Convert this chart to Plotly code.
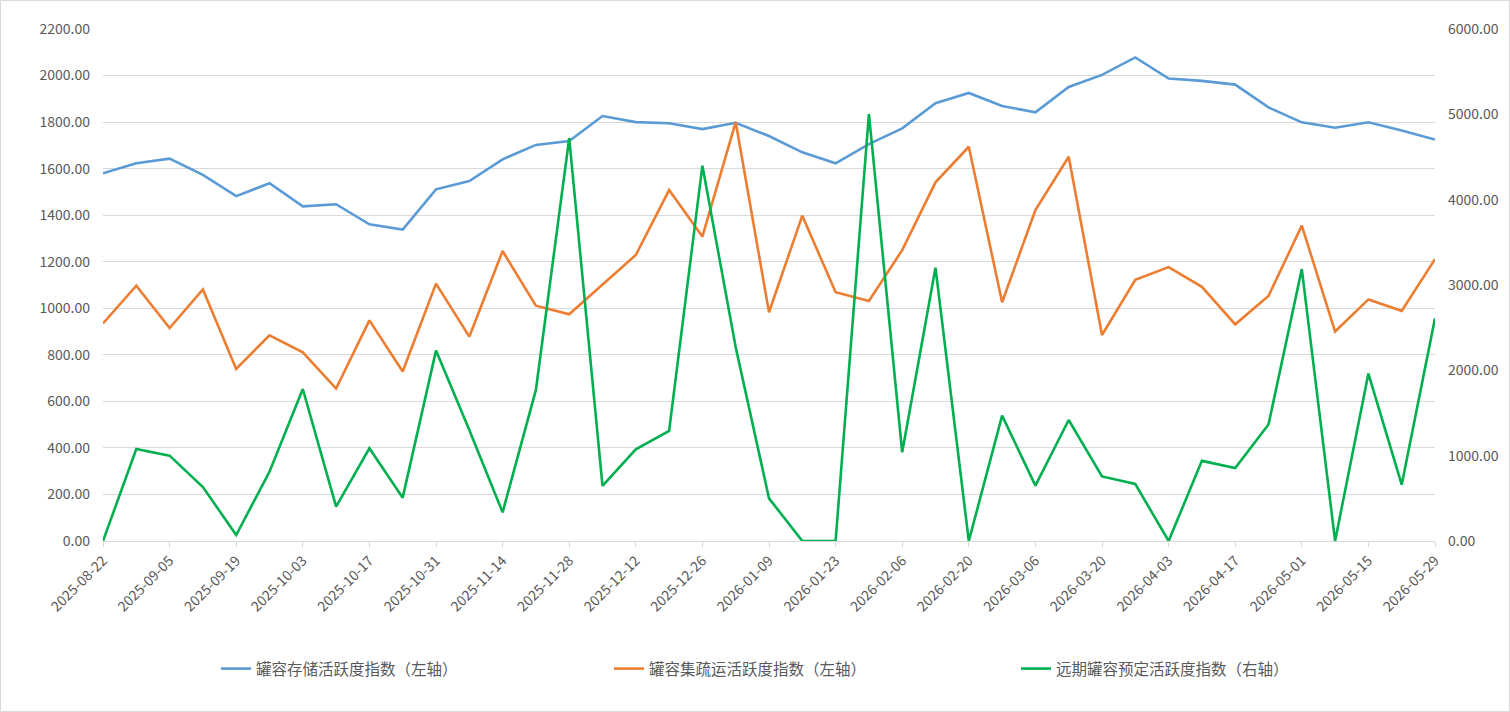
import plotly.graph_objects as go
import pandas as pd

dates = pd.date_range("2025-08-22", "2026-05-29", freq="7D")

storage = [1580, 1623, 1643, 1573, 1482, 1537, 1438, 1447, 1361, 1338, 1511,
           1547, 1640, 1702, 1719, 1826, 1800, 1795, 1770, 1797, 1740,
           1670, 1623, 1705, 1773, 1881, 1925, 1869, 1842, 1951, 2003,
           2078, 1987, 1977, 1961, 1863, 1799, 1776, 1799, 1764, 1725]
transport = [935, 1097, 915, 1081, 739, 884, 811, 655, 948, 728, 1106,
             878, 1246, 1011, 974, 1100, 1229, 1508, 1308, 1800, 983,
             1398, 1069, 1031, 1250, 1541, 1694, 1026, 1422, 1651, 885,
             1122, 1177, 1092, 931, 1053, 1355, 900, 1038, 989, 1211]
booking = [0, 1078, 1000, 633, 70, 812, 1781, 402, 1086, 508, 2231,
           1300, 336, 1770, 4720, 645, 1074, 1289, 4399, 2270, 500,
           0, 0, 5004, 1039, 3203, 0, 1469, 649, 1418, 757,
           668, 0, 939, 856, 1365, 3186, 0, 1962, 660, 2609]

names = ["罐容存储活跃度指数（左轴）", "罐容集疏运活跃度指数（左轴）", "远期罐容预定活跃度指数（右轴）"]
colors = ["#5B9BD5", "#ED7D31", "#00B050"]

W, H = 1510, 712
L, R, T, B = 103, 75, 29, 171
pw, ph = W - L - R, H - T - B

fig = go.Figure()
fig.add_trace(go.Scatter(x=dates, y=storage, name=names[0], mode="lines",
                         line=dict(color=colors[0], width=2.6), legend="legend"))
fig.add_trace(go.Scatter(x=dates, y=transport, name=names[1], mode="lines",
                         line=dict(color=colors[1], width=2.6), legend="legend2"))
fig.add_trace(go.Scatter(x=dates, y=booking, name=names[2], mode="lines", yaxis="y2",
                         line=dict(color=colors[2], width=2.6), legend="legend3"))

font = dict(family="Noto Sans CJK SC", size=14, color="#595959")
lfont = dict(family="Noto Sans CJK SC", size=15.5, color="#595959")


def leg(px):
    return dict(orientation="h", x=(px - L) / pw, y=(T + ph - 669) / ph,
                xanchor="left", yanchor="middle", font=lfont,
                bgcolor="rgba(0,0,0,0)", itemwidth=30)


fig.update_layout(
    width=W, height=H,
    margin=dict(l=L, r=R, t=T, b=B, autoexpand=False),
    paper_bgcolor="white", plot_bgcolor="white",
    font=font,
    showlegend=True,
    legend=leg(216),
    legend2=leg(609),
    legend3=leg(1016),
    xaxis=dict(
        type="date", automargin=False,
        range=[dates[0], dates[-1]],
        tick0=dates[0], dtick=14 * 86400000,
        tickformat="%Y-%m-%d", tickangle=-45,
        showgrid=False, showline=True, linecolor="#d9d9d9", linewidth=1,
        ticks="outside", ticklen=5, tickcolor="#d9d9d9",
        tickfont=font, zeroline=False,
    ),
    yaxis=dict(
        automargin=False,
        range=[0, 2200], dtick=200, tickformat=".2f",
        showgrid=True, gridcolor="#d9d9d9", gridwidth=1,
        zeroline=False, showline=False, tickfont=font, ticks="",
        ticklabelstandoff=12,
    ),
    yaxis2=dict(
        automargin=False,
        range=[0, 6000], dtick=1000, tickformat=".2f",
        overlaying="y", side="right", showgrid=False,
        zeroline=False, showline=False, tickfont=font,
        ticklabelstandoff=12,
    ),
    shapes=[dict(type="rect", xref="paper", yref="paper",
                 x0=(0.5 - L) / pw, x1=(W - 0.5 - L) / pw,
                 y0=(T + ph - (H - 0.5)) / ph, y1=(T + ph - 0.5) / ph,
                 line=dict(color="#d9d9d9", width=1), layer="below")],
)

fig.write_html("out.html")
